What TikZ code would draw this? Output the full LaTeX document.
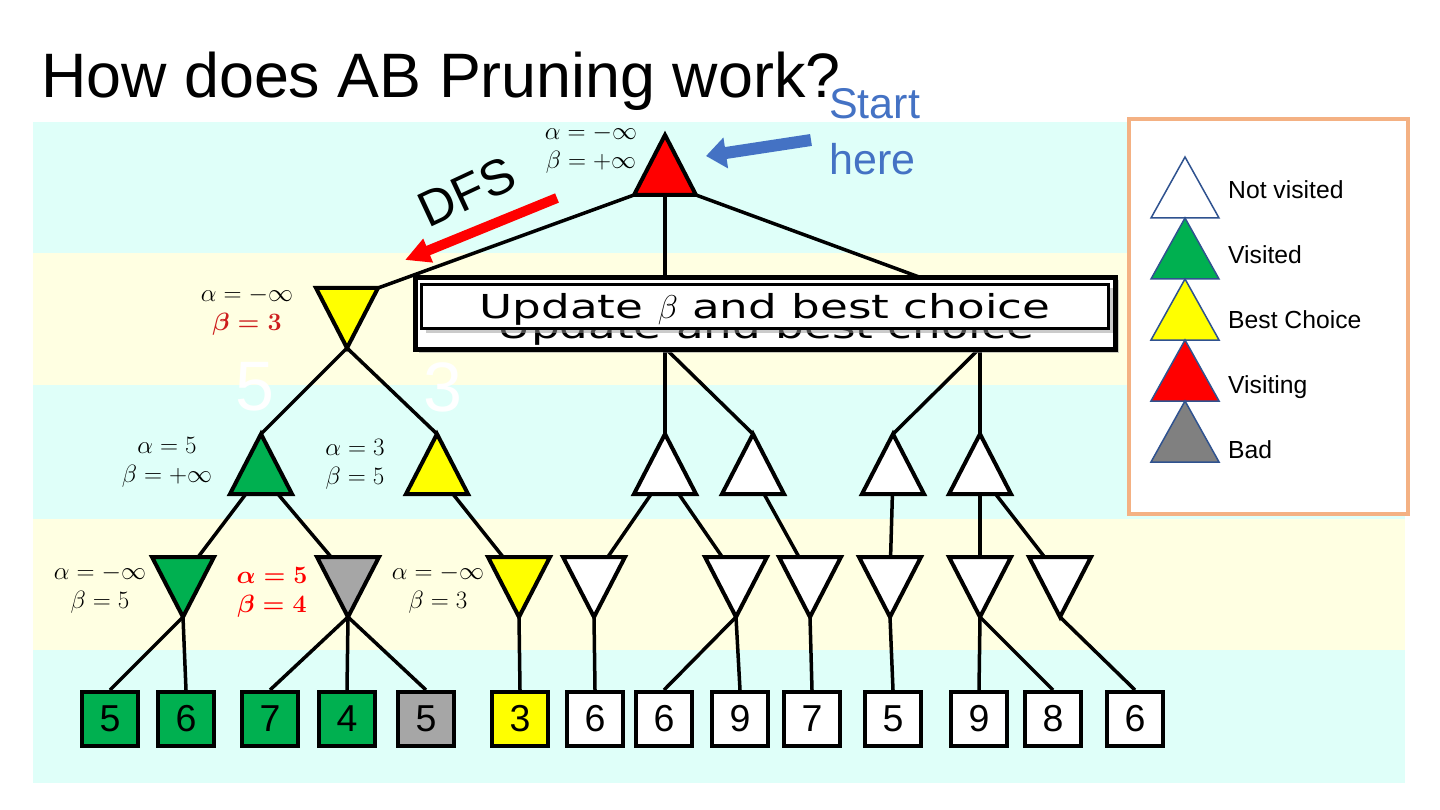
\RequirePackage{fix-cm}
\documentclass[tikz,border=0pt]{standalone}
\usepackage{amsmath}
\usepackage{fontspec}
\setmainfont{Liberation Sans}
\newfontfamily\wideface[FakeStretch=1.37]{DejaVu Sans}
\usetikzlibrary{arrows.meta,shadows}
\definecolor{bandcyan}{RGB}{223,255,249}
\definecolor{bandyellow}{RGB}{255,255,226}
\definecolor{nodegreen}{RGB}{0,176,80}
\definecolor{nodeyellow}{RGB}{255,255,0}
\definecolor{nodered}{RGB}{255,0,0}
\definecolor{nodegray}{RGB}{166,166,166}
\definecolor{badgray}{RGB}{128,128,128}
\definecolor{startblue}{RGB}{68,114,196}
\definecolor{legendline}{RGB}{47,82,143}
\definecolor{legendframe}{RGB}{244,177,131}
\definecolor{darklabelred}{RGB}{205,30,30}
\pgfdeclarelayer{bands}
\pgfdeclarelayer{edges}
\pgfsetlayers{bands,edges,main}
\tikzset{
  tri/.style={draw=black, line width=4pt},
  edge/.style={draw=black, line width=3.5pt},
  pics/maxnode/.style={code={
    \filldraw[tri, fill=#1] (-31,20) -- (0,-40) -- (31,20) -- cycle;
    \coordinate (-c) at (0,0);
    \coordinate (-top) at (0,-40);
    \coordinate (-bl) at (-31,20);
    \coordinate (-b) at (0,20);
    \coordinate (-br) at (31,20);}},
  pics/minnode/.style={code={
    \filldraw[tri, fill=#1] (-31,-20) -- (0,40) -- (31,-20) -- cycle;
    \coordinate (-c) at (0,0);
    \coordinate (-bot) at (0,40);
    \coordinate (-tl) at (-31,-20);
    \coordinate (-tr) at (31,-20);}},
  leaf/.style={draw=black, line width=4pt, minimum width=56pt, minimum height=54pt,
    inner sep=0pt, font=\fontsize{37.5}{40}\selectfont},
  ab/.style={font=\fontsize{25}{29}\selectfont, align=center, inner sep=0pt},
  legtext/.style={anchor=base west, inner sep=0pt, font=\fontsize{24.7}{30}\selectfont},
}

\begin{document}
\begin{tikzpicture}[x=1pt, y=-1pt]
  \useasboundingbox (0,0) rectangle (1440,810);
  %% Background bands, one per level
  \begin{pgfonlayer}{bands}
    \foreach \ya/\yb/\c in {122/253/bandcyan, 253/385/bandyellow, 385/519/bandcyan,
                            519/650/bandyellow, 650/783/bandcyan}
      \fill[\c] (33,\ya) rectangle (1405,\yb);
  \end{pgfonlayer}
  %% Title
  \node[anchor=base west, inner sep=0pt, font=\fontsize{62.8}{70}\selectfont] (title) at (41,98) {How does AB Pruning work?};
  %% Root (max) and first min level
  \pic (r) at (665,175) {maxnode=nodered};
  \pic (a) at (347,308) {minnode=nodeyellow};
  \pic (b) at (665,308) {minnode=white};
  \pic (c) at (980,308) {minnode=white};
  %% Second level (max)
  \foreach \n/\x/\c in {ga/261/nodegreen, gb/437/nodeyellow, gc/665/white,
                        gd/753/white, ge/893/white, gf/980/white}
    \pic (\n) at (\x,474) {maxnode=\c};
  %% Third level (min)
  \foreach \n/\x/\c in {ha/183/nodegreen, hb/348/nodegray, hc/519/nodeyellow,
                        hd/594/white, he/736/white, hf/810/white,
                        hg/890/white, hh/980/white, hi/1060/white}
    \pic (\n) at (\x,577) {minnode=\c};
  %% Leaves
  \foreach \i/\x/\v/\c in {1/110/5/nodegreen, 2/186/6/nodegreen, 3/270/7/nodegreen,
                           4/347/4/nodegreen, 5/426/5/nodegray, 6/520/3/nodeyellow,
                           7/595/6/white, 8/664/6/white, 9/740/9/white, 10/812/7/white,
                           11/893/5/white, 12/979/9/white, 13/1053/8/white, 14/1135/6/white}
    \node[leaf, fill=\c] (l\i) at (\x,719) {\v};
  %% Tree edges (under the nodes)
  \begin{pgfonlayer}{edges}
    \draw[edge] (r-bl) -- (a-tr);
    \draw[edge] (r-b) -- (b-c);
    \draw[edge] (r-br) -- (c-tl);
    \foreach \p/\q in {a/ga, a/gb, b/gc, b/gd, c/ge, c/gf}
      \draw[edge] (\p-bot) -- (\q-top);
    \foreach \p/\q in {ga/ha, ga/hb, gb/hc, gc/hd, gc/he, gd/hf, ge/hg, gf/hh, gf/hi}
      \draw[edge] (\p-c) -- (\q-c);
    \foreach \p/\q in {ha/1, ha/2, hb/3, hb/4, hb/5, hc/6, hd/7, he/8, he/9,
                       hf/10, hg/11, hh/12, hh/13, hi/14}
      \draw[edge] (\p-bot) -- (l\q.north);
  \end{pgfonlayer}
  %% Alpha / beta values
  \node[ab] (rab) at (591,149) {$\alpha = -\infty$\\$\beta = +\infty$};
  \node[ab] (aab) at (247,311) {$\alpha = -\infty$\\\textcolor{darklabelred}{$\boldsymbol{\beta = 3}$}};
  \node[ab] (gaab) at (167,462) {$\alpha = 5$\\$\beta = +\infty$};
  \node[ab] (gbab) at (355,464) {$\alpha = 3$\\$\beta = 5$};
  \node[ab] (haab) at (100,589) {$\alpha = -\infty$\\$\beta = 5$};
  \node[ab, text=nodered] (hbab) at (272,592) {$\boldsymbol{\alpha = 5}$\\$\boldsymbol{\beta = 4}$};
  \node[ab] (hcab) at (438,589) {$\alpha = -\infty$\\$\beta = 3$};
  %% Faded values on the edges
  \node[text=white, font=\fontsize{70}{70}\selectfont] (e5) at (255,387) {5};
  \node[text=white, font=\fontsize{70}{70}\selectfont] (e3) at (443,387) {3};
  %% Start here / DFS arrows
  \node[anchor=north west, align=left, inner sep=0pt, text=startblue,
        font=\fontsize{43}{56}\selectfont] (start) at (829,88) {Start\\here};
  \coordinate (startfrom) at (811,140);
  \coordinate (startto) at (706,156);
  \draw[startblue, line width=12pt, -{Triangle[length=20pt,width=30pt]}] (startfrom) -- (startto);
  \node[rotate=25, inner sep=0pt, font=\fontsize{50}{54}\selectfont] (dfs) at (467,192) {DFS};
  \coordinate (dfsfrom) at (557,198);
  \coordinate (dfsto) at (405,260);
  \draw[nodered, line width=10pt, -{Triangle[length=25pt,width=24pt]}] (dfsfrom) -- (dfsto);
  %% Legend
  \node[draw=legendframe, line width=4pt, fill=white, minimum width=279pt,
        minimum height=395pt, inner sep=0pt] (legend) at (1268.5,316.5) {};
  \foreach \i/\c/\t in {0/white/Not visited, 1/nodegreen/Visited, 2/nodeyellow/Best Choice,
                        3/nodered/Visiting, 4/badgray/Bad} {
    \filldraw[draw=legendline, line width=1.5pt, fill=\c]
      (1151,218+61*\i) -- (1185,157+61*\i) -- (1219,218+61*\i) -- cycle;
    \node[legtext] (leg\i) at (1228,199+64.75*\i) {\t};
  }
  %% Message box
  \node[draw=black, line width=5pt, fill=white, minimum width=700pt, minimum height=72pt,
        inner sep=0pt, drop shadow={shadow xshift=3pt, shadow yshift=-3pt, fill=gray!80}]
        (updframe) at (765.5,313.5) {};
  \node[anchor=base, inner sep=0pt, font=\wideface\fontsize{33}{40}\selectfont] (ghost) at (766,338) {Update and best choice};
  \node[draw=black, line width=3pt, fill=white, minimum width=687pt, minimum height=44pt,
        inner sep=0pt, text height=31pt, text depth=6pt,
        drop shadow={shadow xshift=4pt, shadow yshift=-4pt, fill=gray!80},
        font=\wideface\fontsize{33}{40}\selectfont] (upd) at (765,306.5) {Update $\beta$ and best choice};
\end{tikzpicture}
\end{document}
